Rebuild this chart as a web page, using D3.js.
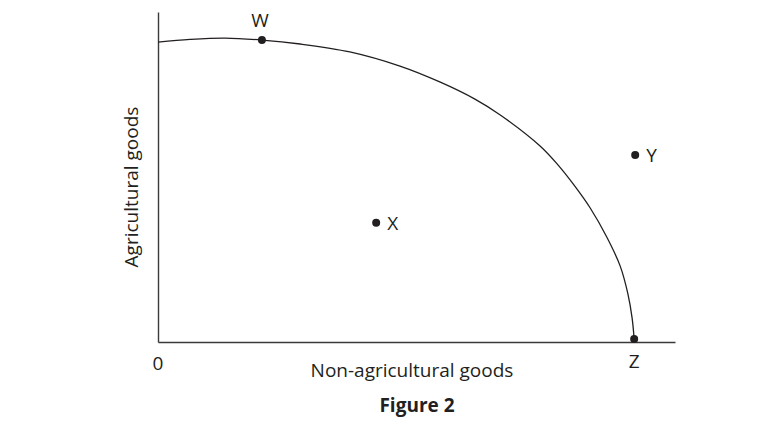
<!DOCTYPE html>
<html>
<head>
<meta charset="utf-8">
<script src="https://cdn.jsdelivr.net/npm/d3@7"></script>
<style>
  body { margin: 0; background: #fff; }
  text { font-family: "Open Sans", "Noto Sans", sans-serif; fill: #231f20; }
</style>
</head>
<body>
<div id="chart"></div>
<script>
"use strict";

// Frontière des possibilités de production
const curveX = [0, 6.2, 13.0, 20.1, 27.5, 37.1, 46.8, 54.5, 61.3, 66.2, 73.9, 77.4, 80.3, 83.6, 86.8, 89.4, 90.9, 91.7, 92.1];
const curveY = [90.9, 91.7, 92.1, 91.5, 90.3, 87.9, 83.6, 78.8, 73.6, 68.8, 59.4, 53.6, 47.9, 40.6, 31.8, 23.0, 14.5, 7.3, 0.9];

const pointNames = ["W", "X", "Y", "Z"];
const pointX = [20.1, 42.2, 92.3, 92.1];
const pointY = [91.5, 36.1, 56.7, 0.9];

const xLabel = "Non-agricultural goods";
const yLabel = "Agricultural goods";
const title = "Figure 2";

const svgWidth = 774;
const svgHeight = 424;
const margin = { top: 12, right: 99, bottom: 82, left: 158 };
const width = svgWidth - margin.left - margin.right;
const height = svgHeight - margin.top - margin.bottom;
const fontSize = "19px";

const svg = d3.select("#chart")
    .append("svg")
    .attr("width", svgWidth)
    .attr("height", svgHeight);

const g = svg.append("g")
    .attr("transform", `translate(${margin.left},${margin.top})`);

const xScale = d3.scaleLinear().domain([0, 100]).range([0, width]);
const yScale = d3.scaleLinear().domain([0, 100]).range([height, 0]);

// Axes sans graduations
g.append("g")
    .attr("transform", `translate(0,${height})`)
    .call(d3.axisBottom(xScale).tickValues([]).tickSizeOuter(0))
    .select(".domain").attr("stroke", "#3a3a3a").attr("stroke-width", 1.4);

g.append("g")
    .call(d3.axisLeft(yScale).tickValues([]).tickSizeOuter(0))
    .select(".domain").attr("stroke", "#3a3a3a").attr("stroke-width", 1.4);

const curve = curveX.map((x, i) => ({ x: x, y: curveY[i] }));

const line = d3.line()
    .x(d => xScale(d.x))
    .y(d => yScale(d.y))
    .curve(d3.curveCatmullRom.alpha(0.5));

g.append("path")
    .datum(curve)
    .attr("fill", "none")
    .attr("stroke", "#231f20")
    .attr("stroke-width", 1.3)
    .attr("d", line);

const points = pointNames.map((n, i) => ({ name: n, x: pointX[i], y: pointY[i] }));

g.selectAll(".dot")
    .data(points)
    .enter().append("circle")
    .attr("class", "dot")
    .attr("cx", d => xScale(d.x))
    .attr("cy", d => yScale(d.y))
    .attr("r", 4)
    .attr("fill", "#231f20");

// Étiquettes des points
const labelPos = {
    W: { dx: -2, dy: -13, anchor: "middle" },
    X: { dx: 11, dy: 7, anchor: "start" },
    Y: { dx: 11, dy: 7, anchor: "start" },
    Z: { dx: 0, dy: 29, anchor: "middle" }
};

g.selectAll(".plabel")
    .data(points)
    .enter().append("text")
    .attr("class", "plabel")
    .attr("x", d => xScale(d.x) + labelPos[d.name].dx)
    .attr("y", d => yScale(d.y) + labelPos[d.name].dy)
    .attr("text-anchor", d => labelPos[d.name].anchor)
    .style("font-size", fontSize)
    .text(d => d.name);

g.append("text")
    .attr("x", xScale(0))
    .attr("y", height + 28)
    .attr("text-anchor", "middle")
    .style("font-size", fontSize)
    .text("0");

g.append("text")
    .attr("x", 254)
    .attr("y", height + 35)
    .attr("text-anchor", "middle")
    .style("font-size", fontSize)
    .text(xLabel);

g.append("text")
    .attr("transform", "rotate(-90)")
    .attr("x", -(175))
    .attr("y", -20)
    .attr("text-anchor", "middle")
    .style("font-size", fontSize)
    .text(yLabel);

g.append("text")
    .attr("x", 259)
    .attr("y", height + 70)
    .attr("text-anchor", "middle")
    .style("font-size", fontSize)
    .style("font-weight", "bold")
    .text(title);
</script>
</body>
</html>
